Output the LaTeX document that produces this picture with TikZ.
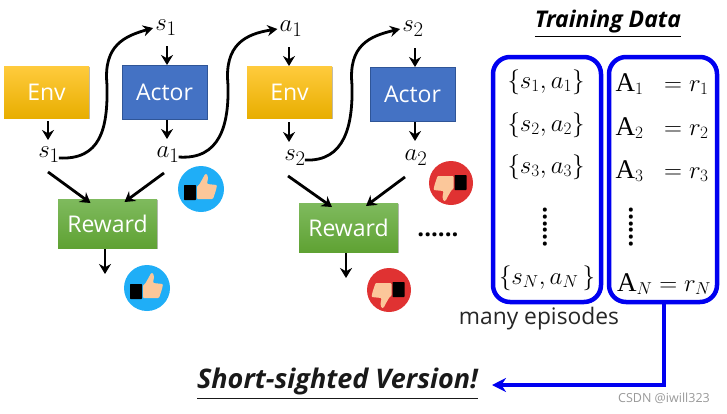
\documentclass[tikz,border=0pt]{standalone}
\usepackage{amsmath}
\usepackage{amssymb}
\usepackage{xcolor}
\usepackage{fontspec}
\setmainfont{Open Sans}
\newfontfamily\rowfont{Liberation Serif}
\usepackage{tikz}
\usetikzlibrary{arrows.meta, shadows}

\definecolor{envtop}{HTML}{FFCB3D}
\definecolor{envmid}{HTML}{FFC000}
\definecolor{envbot}{HTML}{E8AE00}
\definecolor{actorfill}{HTML}{4472C4}
\definecolor{actorline}{HTML}{2F5597}
\definecolor{rewardtop}{HTML}{7FBA5E}
\definecolor{rewardmid}{HTML}{70AD47}
\definecolor{rewardbot}{HTML}{5FA233}
\definecolor{goodblue}{HTML}{1FAEF7}
\definecolor{badred}{HTML}{E03232}
\definecolor{handskin}{HTML}{FBC79A}
\definecolor{boxblue}{HTML}{0000F0}

\newcommand{\upA}{\text{\rowfont A}}

\tikzset{
    box/.style = {inner sep=0pt, outer sep=0pt, text=white, font=\fontsize{23}{26}\selectfont},
    envbox/.style = {box, minimum width=85pt, minimum height=52pt, top color=envtop, middle color=envmid, bottom color=envbot,
        drop shadow={shadow xshift=0.7pt, shadow yshift=-1.3pt, fill=black!45, opacity=0.6}},
    actorbox/.style = {box, draw=actorline, line width=0.7pt, fill=actorfill, minimum width=85pt, minimum height=54pt},
    rewardbox/.style = {box, minimum width=99pt, minimum height=49pt, top color=rewardtop, middle color=rewardmid, bottom color=rewardbot,
        drop shadow={shadow xshift=0.7pt, shadow yshift=-1.3pt, fill=black!45, opacity=0.6}},
    var/.style = {inner sep=0pt, font=\fontsize{29}{32}\selectfont},
    row/.style = {inner sep=0pt, font=\fontsize{27}{30}\selectfont},
    dotrow/.style = {inner sep=0pt, font=\bfseries\fontsize{24}{24}\selectfont},
    flow/.style = {-{Stealth[length=10pt, width=12pt]}, line width=2.8pt, black},
    loopflow/.style = {-{Stealth[length=10pt, width=11pt]}, line width=2.8pt, black},
    databox/.style = {draw=boxblue, line width=4.5pt, rounded corners=17pt, inner sep=0pt, minimum width=108pt, minimum height=245pt},
    goodmark/.style = {circle, fill=goodblue, minimum size=46pt, inner sep=0pt},
    badmark/.style = {circle, fill=badred, minimum size=44pt, inner sep=0pt},
    thumbup/.pic = {
        \fill[black, rounded corners=0.7pt] (-17,-4) rectangle (-5,11);
        \fill[handskin, rounded corners=1pt] (-4,-3) -- (-2,-4) -- (2,-11) -- (4,-15) -- (6,-15) -- (7,-11) -- (6,-5) -- (16,-4) -- (15,1) -- (12,10) -- (-4,10) -- cycle;
    },
}

\begin{document}
\begin{tikzpicture}[x=1pt, y=-1pt]
    \useasboundingbox (0,0) rectangle (727,413);

    % first step
    \node[envbox] (env1) at (46.5,92) {Env};
    \node[actorbox] (actor1) at (164.5,92) {Actor};
    \node[rewardbox] (reward1) at (107.5,223.5) {Reward};
    \node[var] (s1top) at (166,28) {$s_1$};
    \node[var] (s1low) at (49,155) {$s_1$};
    \node[var] (a1low) at (168,155) {$a_1$};
    \coordinate (out1) at (105,274);

    % second step
    \node[envbox] (env2) at (289.5,92) {Env};
    \node[actorbox] (actor2) at (412.5,94) {Actor};
    \node[rewardbox] (reward2) at (348.5,227.5) {Reward};
    \node[var] (a1top) at (291,29) {$a_1$};
    \node[var] (s2top) at (413,29) {$s_2$};
    \node[var] (s2low) at (295,158) {$s_2$};
    \node[var] (a2low) at (416,158) {$a_2$};
    \coordinate (out2) at (346,278);

    % arrows
    \draw[flow] ([xshift=2.5pt,yshift=19pt]actor1.north) -- ([xshift=2.5pt]actor1.north);
    \draw[flow] (env1.south) ++(1.5,3) -- ++(0,19);
    \draw[flow] (actor1.south) ++(2.5,1) -- ++(0,19);
    \draw[flow] (s1low.south) ++(-1,9) -- ([xshift=-17pt,yshift=-4pt]reward1.north);
    \draw[flow] (a1low.south) ++(-4,10) -- ([xshift=17pt,yshift=-3pt]reward1.north);
    \draw[flow] (reward1.south) ++(-2.5,1) -- (out1);
    \draw[flow] ([xshift=-0.5pt,yshift=19pt]env2.north) -- ([xshift=-0.5pt]env2.north);
    \draw[flow] (env2.south) ++(-0.5,4) -- ++(0,20);
    \draw[flow] ([xshift=2.5pt,yshift=19pt]actor2.north) -- ([xshift=2.5pt]actor2.north);
    \draw[flow] (actor2.south) ++(2.5,1) -- ++(0,19);
    \draw[flow] (s2low.south) ++(-7,10) -- ([xshift=-16.5pt,yshift=-4pt]reward2.north);
    \draw[flow] (a2low.south) ++(-11,11) -- ([xshift=17.5pt,yshift=-3pt]reward2.north);
    \draw[flow] (reward2.south) ++(-2.5,1) -- (out2);

    % curved feedback
    \draw[loopflow] (s1low.east) ++(-1,3) .. controls (100,160) and (108,130) .. (107,85) .. controls (103,45) and (125,36) .. ([xshift=-2pt]s1top.west);
    \draw[loopflow] (a1low.east) ++(-1,2) .. controls (220,160) and (229,125) .. (228,85) .. controls (224,45) and (245,34) .. ([xshift=-2pt]a1top.west);
    \draw[loopflow] (s2low.east) ++(-1,2) .. controls (345,162) and (353,125) .. (352,85) .. controls (348,45) and (370,36) .. ([xshift=-2pt]s2top.west);

    % thumbs
    \node[goodmark] (good1) at (201,189) {};
    \pic at (good1) {thumbup};
    \node[goodmark] (good2) at (147,288) {};
    \pic at (good2) {thumbup};
    \node[badmark] (bad1) at (451,183) {};
    \pic[rotate=180] at ([xshift=-1.5pt,yshift=-3pt]bad1.center) {thumbup};
    \node[badmark] (bad2) at (389,290) {};
    \pic[rotate=180] at ([xshift=-1.5pt,yshift=-3pt]bad2.center) {thumbup};
    \node[dotrow] (hdots) at (438,235) {......};

    % training data
    \node[inner sep=0pt, font=\bfseries\itshape\fontsize{23}{26}\selectfont] (title) at (608,24) {\underline{Training Data}};
    \node[databox] (leftbox) at (547,179.5) {};
    \node[databox] (rightbox) at (663,179.5) {};
    \node[row] (pair1) at (546,82) {$\{s_1, a_1\}$};
    \node[row] (pair2) at (546,125) {$\{s_2, a_2\}$};
    \node[row] (pair3) at (546,167) {$\{s_3, a_3\}$};
    \node[row] (pairn) at (547,278) {$\{s_N, a_N\,\}$};
    \node[row] (rew1) at (662,84) {$\upA_1\;\;=r_1$};
    \node[row] (rew2) at (662,128) {$\upA_2\;\;=r_2$};
    \node[row] (rew3) at (662,171) {$\upA_3\;\;=r_3$};
    \node[row] (rewn) at (664,284) {$\upA_N=r_N$};
    \node[dotrow, rotate=90] (vdots1) at (545,227) {......};
    \node[dotrow, rotate=90] (vdots2) at (631,227) {......};
    \node[inner sep=0pt, font=\fontsize{22.8}{25}\selectfont, text=black!85] (episodes) at (539,319) {many episodes};

    % summary
    \node[inner sep=0pt, font=\bfseries\itshape\fontsize{27}{30}\selectfont, text=black!90] (short) at (337.5,384) {\underline{Short-sighted Version!}};
    \coordinate (corner) at (664,385);
    \coordinate (tip) at (492,385);
    \draw[-{Stealth[length=14pt, width=14pt]}, draw=boxblue, line width=4pt] (rightbox.south -| corner) -- (corner) -- (tip);
    \node[inner sep=0pt, font=\fontsize{12.5}{14}\selectfont, text=black!40] (mark) at (664,398) {CSDN @iwill323};
\end{tikzpicture}
\end{document}
